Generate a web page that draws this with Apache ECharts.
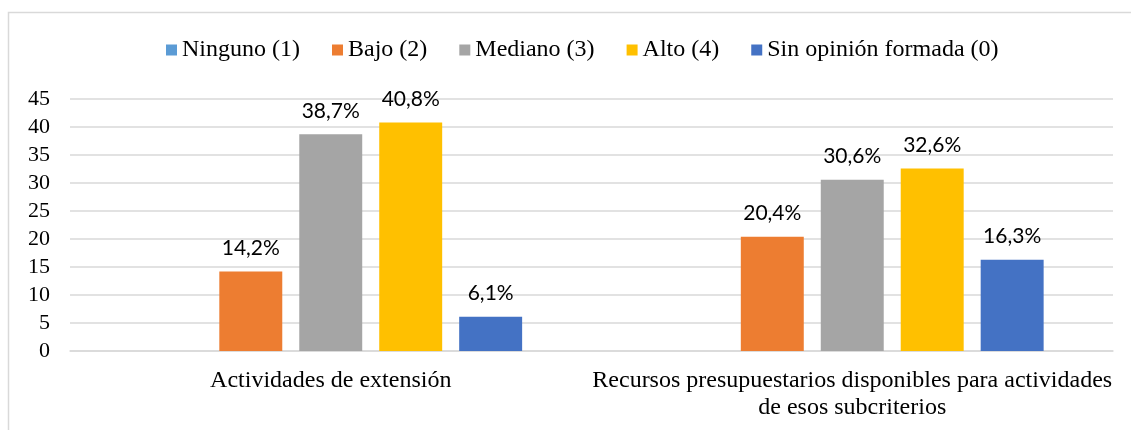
<!DOCTYPE html>
<html>
<head>
<meta charset="utf-8">
<script src="https://cdn.jsdelivr.net/npm/echarts@6/dist/echarts.min.js"></script>
<style>
html,body{margin:0;padding:0;background:#fff;}
#chart{width:1131px;height:430px;}
</style>
</head>
<body>
<div id="chart"></div>
<script>
const categories = ["Actividades de extensión", "Recursos presupuestarios disponibles para actividades\nde esos subcriterios"];
const seriesNames = ["Ninguno (1)", "Bajo (2)", "Mediano (3)", "Alto (4)", "Sin opinión formada (0)"];
const ninguno = [null, null];
const bajo = [14.2, 20.4];
const mediano = [38.7, 30.6];
const alto = [40.8, 32.6];
const sinOpinion = [6.1, 16.3];
const yTicks = { min: 0, max: 45, interval: 5 };
const colors = ["#5B9BD5", "#ED7D31", "#A5A5A5", "#FFC000", "#4472C4"];

const values = [ninguno, bajo, mediano, alto, sinOpinion];
const serif = "Liberation Serif";

const chart = echarts.init(document.getElementById('chart'));
chart.setOption({
  animation: false,
  backgroundColor: '#fff',
  graphic: [{
    type: 'rect', shape: { x: 8.5, y: 12.5, width: 1200, height: 500 },
    style: { fill: 'none', stroke: '#d9d9d9', lineWidth: 1.5 }, silent: true, z: -1
  }],
  legend: {
    left: 161, top: 33,
    itemWidth: 11, itemHeight: 11, itemGap: 32,
    icon: 'rect',
    textStyle: { fontFamily: serif, fontSize: 24, color: '#000' },
    data: seriesNames
  },
  grid: { left: 70, right: 18, top: 99, bottom: 79 },
  xAxis: {
    type: 'category', data: categories,
    axisLine: { lineStyle: { color: '#d9d9d9', width: 1.5 } },
    axisTick: { show: false },
    axisLabel: { interval: 0, margin: 16, fontFamily: serif, fontSize: 24, color: '#000', lineHeight: 27 }
  },
  yAxis: {
    type: 'value', min: yTicks.min, max: yTicks.max, interval: yTicks.interval,
    axisLine: { show: false }, axisTick: { show: false },
    splitLine: { lineStyle: { color: '#d9d9d9', width: 1.5 } },
    axisLabel: { margin: 20, fontFamily: serif, fontSize: 22, color: '#000' }
  },
  series: seriesNames.map((n, i) => ({
    name: n, type: 'bar', data: values[i],
    barGap: '27%', barCategoryGap: '26.6%',
    itemStyle: { color: colors[i] },
    label: {
      show: true, position: 'top', distance: 13,
      fontFamily: "Lato", fontSize: 21, color: '#000',
      formatter: p => p.value == null ? '' : p.value.toFixed(1).replace('.', ',') + '%'
    }
  }))
});
</script>
</body>
</html>
